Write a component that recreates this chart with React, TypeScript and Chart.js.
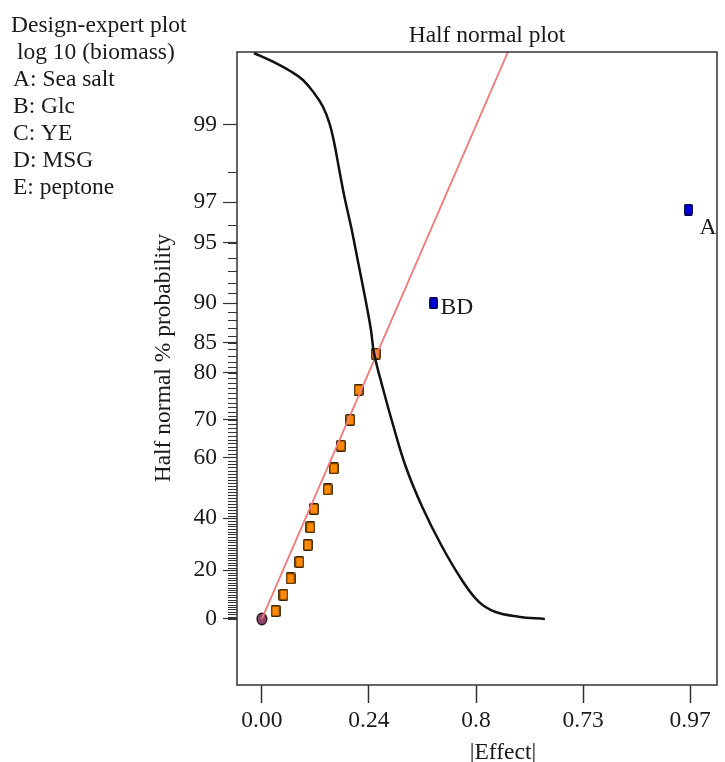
import React, { useEffect, useRef } from "react";
import { Chart, registerables } from "chart.js";

Chart.register(...registerables);

// ---------- data ----------
const noteLines = [
  "Design-expert plot",
  " log 10 (biomass)",
  "A: Sea salt",
  "B: Glc",
  "C: YE",
  "D: MSG",
  "E: peptone",
];
const chartTitle = "Half normal plot";
const xTitle = "|Effect|";
const yTitle = "Half normal % probability";

const xTickValues = [0, 0.2425, 0.485, 0.7275, 0.97];
const xTickLabels = ["0.00", "0.24", "0.8", "0.73", "0.97"];

const yMajorTicks = [0, 20, 40, 60, 70, 80, 85, 90, 95, 97, 99];
const yMinorTickCount = 100; // one small tick per percent, 0..99

// small (orange) effects
const effectSmall = [0.031, 0.049, 0.065, 0.085, 0.104, 0.11, 0.118, 0.149, 0.163, 0.179, 0.2, 0.219, 0.258];
const probSmall = [3.3, 10.0, 16.7, 23.3, 30.0, 36.7, 43.3, 50.0, 56.7, 63.3, 70.0, 76.7, 83.3];

// labelled (blue) effects
const effectBig = [0.389, 0.966];
const probBig = [90.0, 96.7];
const bigLabels = ["BD", "A"];

// origin marker
const effectOrigin = [0];
const probOrigin = [0];

// red reference line
const lineEffect = [0, 0.56];
const lineProb = [0, 99.7];

// black curve
const curveEffect = [-0.018, 0.025, 0.063, 0.093, 0.119, 0.138, 0.153, 0.164, 0.174, 0.187, 0.202, 0.217, 0.232, 0.247, 0.254, 0.273, 0.296, 0.326, 0.363, 0.408, 0.453, 0.491, 0.528, 0.581, 0.641];
const curveProb = [99.68, 99.63, 99.57, 99.5, 99.38, 99.24, 99.02, 98.68, 98.15, 97.21, 95.9, 93.85, 91.0, 86.8, 83.4, 77.4, 69.2, 57.2, 44.1, 29.4, 16.1, 7.2, 3.0, 0.96, 0.0];

// ---------- styling ----------
const FONT = "'Liberation Serif', 'Times New Roman', serif";
const FS = 23.5;
const TEXT = "#1a1a1a";
const labelOffsets = [
  [7, 11],
  [11, 24],
];

// half-normal probability transform (axis scale)
function normInv(p: number): number {
  const a = [-39.69683028665376, 220.9460984245205, -275.9285104469687, 138.357751867269, -30.66479806614716, 2.506628277459239];
  const b = [-54.47609879822406, 161.5858368580409, -155.6989798598866, 66.80131188771972, -13.28068155288572];
  const c = [-0.007784894002430293, -0.3223964580411365, -2.400758277161838, -2.549732539343734, 4.374664141464968, 2.938163982698783];
  const d = [0.007784695709041462, 0.3224671290700398, 2.445134137142996, 3.754408661907416];
  const pl = 0.02425;
  const ph = 1 - pl;
  if (p < pl) {
    const q = Math.sqrt(-2 * Math.log(p));
    return (((((c[0] * q + c[1]) * q + c[2]) * q + c[3]) * q + c[4]) * q + c[5]) / ((((d[0] * q + d[1]) * q + d[2]) * q + d[3]) * q + 1);
  }
  if (p <= ph) {
    const q = p - 0.5;
    const r = q * q;
    return ((((((a[0] * r + a[1]) * r + a[2]) * r + a[3]) * r + a[4]) * r + a[5]) * q) / (((((b[0] * r + b[1]) * r + b[2]) * r + b[3]) * r + b[4]) * r + 1);
  }
  const q = Math.sqrt(-2 * Math.log(1 - p));
  return -(((((c[0] * q + c[1]) * q + c[2]) * q + c[3]) * q + c[4]) * q + c[5]) / ((((d[0] * q + d[1]) * q + d[2]) * q + d[3]) * q + 1);
}
function halfZ(pct: number): number {
  const s = pct < 0 ? -1 : 1;
  const v = Math.abs(pct);
  if (v === 0) return 0;
  return s * normInv(0.5 + v / 200);
}
const toPts = (xs: number[], ps: number[]) => xs.map((x, i) => ({ x, y: halfZ(ps[i]) }));

function makeMarker(w: number, h: number, fill: string, stroke: string, shape: "rect" | "blob") {
  const c = document.createElement("canvas");
  c.width = w;
  c.height = h;
  const g = c.getContext("2d")!;
  g.fillStyle = fill;
  g.strokeStyle = stroke;
  g.lineWidth = 1.4;
  g.beginPath();
  if (shape === "rect") {
    (g as any).roundRect(0.8, 0.8, w - 1.6, h - 1.6, 1);
  } else {
    g.ellipse(w / 2, h / 2, w / 2 - 1.2, h / 2 - 1.2, 0, 0, Math.PI * 2);
  }
  g.fill();
  g.stroke();
  return c;
}

const decorPlugin = {
  id: "decor",
  afterDraw(chart: any) {
    const { ctx, chartArea: ca, scales } = chart;
    ctx.save();
    // frame
    ctx.strokeStyle = "#333";
    ctx.lineWidth = 1.5;
    ctx.strokeRect(ca.left, ca.top, ca.right - ca.left, ca.bottom - ca.top);
    // minor y ticks
    ctx.lineWidth = 1;
    for (let i = 0; i < yMinorTickCount; i++) {
      const py = Math.round(scales.y.getPixelForValue(halfZ(i))) + 0.5;
      ctx.beginPath();
      ctx.moveTo(ca.left - 9, py);
      ctx.lineTo(ca.left, py);
      ctx.stroke();
    }
    ctx.fillStyle = TEXT;
    ctx.font = `${FS}px ${FONT}`;
    ctx.textBaseline = "alphabetic";
    // notes
    const noteX = [11, 11, 13, 13, 13, 13, 13];
    noteLines.forEach((t, i) => {
      ctx.textAlign = "left";
      ctx.fillText(t, noteX[i], 32 + i * 27);
    });
    // title
    ctx.textAlign = "center";
    ctx.fillText(chartTitle, 487, 42);
    // x title
    ctx.fillText(xTitle, 503, 759);
    // y title
    ctx.save();
    ctx.translate(170, 358);
    ctx.rotate(-Math.PI / 2);
    ctx.textAlign = "center";
    ctx.fillText(yTitle, 0, 0);
    ctx.restore();
    // labels of big effects
    const meta = chart.getDatasetMeta(3);
    meta.data.forEach((el: any, i: number) => {
      ctx.textAlign = "left";
      ctx.fillText(bigLabels[i], el.x + labelOffsets[i][0], el.y + labelOffsets[i][1]);
    });
    ctx.restore();
  },
};

export default function App() {
  const ref = useRef<HTMLCanvasElement | null>(null);
  useEffect(() => {
    if (!ref.current) return;
    const orange = makeMarker(10, 12, "#ff8a00", "#3d2200", "rect");
    const blue = makeMarker(9, 12, "#0000dd", "#000044", "rect");
    const origin = makeMarker(12, 14, "#8e4868", "#2a1020", "blob");
    const chart = new Chart(ref.current, {
      type: "scatter",
      data: {
        datasets: [
          {
            type: "line",
            data: toPts(curveEffect, curveProb),
            borderColor: "#111",
            borderWidth: 2.5,
            pointRadius: 0,
            tension: 0.4,
            fill: false,
          } as any,
          {
            type: "line",
            data: toPts(lineEffect, lineProb),
            borderColor: "#f07a7a",
            borderWidth: 1.8,
            pointRadius: 0,
            fill: false,
          } as any,
          {
            data: toPts(effectSmall, probSmall),
            pointStyle: orange,
            pointRadius: 6,
          },
          {
            data: toPts(effectBig, probBig),
            pointStyle: blue,
            pointRadius: 6,
          },
          {
            data: toPts(effectOrigin, probOrigin),
            pointStyle: origin,
            pointRadius: 7,
          },
        ],
      },
      options: {
        animation: false,
        responsive: false,
        devicePixelRatio: 1,
        layout: { padding: { top: 52, right: 5, left: 0, bottom: 0 } },
        plugins: { legend: { display: false }, tooltip: { enabled: false }, title: { display: false } },
        scales: {
          x: {
            type: "linear",
            min: -0.0563,
            max: 1.0308,
            border: { display: false },
            grid: { drawOnChartArea: false, drawTicks: true, tickLength: 18, tickColor: "#333", tickWidth: 1.5 },
            afterBuildTicks: (s: any) => {
              s.ticks = xTickValues.map((v) => ({ value: v }));
            },
            afterFit: (s: any) => {
              s.height = 77;
            },
            ticks: {
              autoSkip: false,
              maxRotation: 0,
              padding: 4,
              color: TEXT,
              font: { family: FONT, size: FS },
              callback: (v: any) => {
                const i = xTickValues.findIndex((t) => Math.abs(t - v) < 1e-6);
                return i >= 0 ? xTickLabels[i] : "";
              },
            },
          },
          y: {
            type: "linear",
            min: -0.344,
            max: 2.953,
            border: { display: false },
            grid: { drawOnChartArea: false, drawTicks: true, tickLength: 14, tickColor: "#333", tickWidth: 1.2 },
            afterBuildTicks: (s: any) => {
              s.ticks = yMajorTicks.map((p) => ({ value: halfZ(p) }));
            },
            afterFit: (s: any) => {
              s.width = 237;
            },
            ticks: {
              autoSkip: false,
              padding: 6,
              color: TEXT,
              font: { family: FONT, size: FS },
              callback: (v: any) => {
                const i = yMajorTicks.findIndex((p) => Math.abs(halfZ(p) - v) < 1e-6);
                return i >= 0 ? String(yMajorTicks[i]) : "";
              },
            },
          },
        },
      },
      plugins: [decorPlugin],
    } as any);
    return () => chart.destroy();
  }, []);
  return (
    <div style={{ position: "absolute", left: 0, top: 0, width: 725, height: 762, background: "#fff" }}>
      <canvas ref={ref} width={725} height={762} style={{ width: 725, height: 762, display: "block" }} />
    </div>
  );
}
